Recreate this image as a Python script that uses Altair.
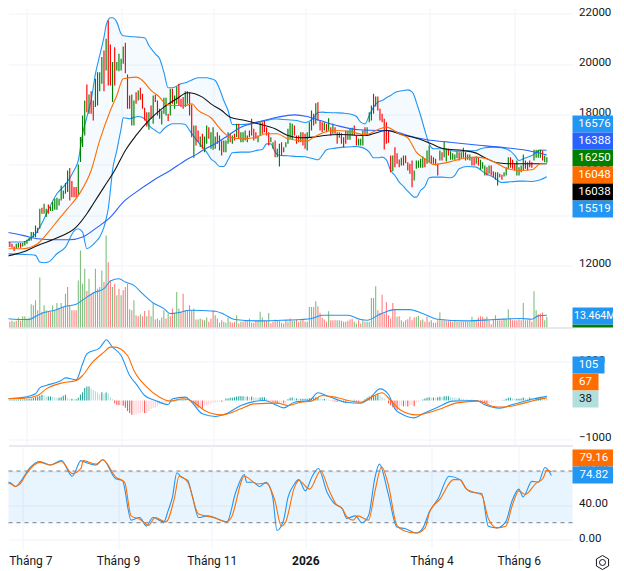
import altair as alt
import pandas as pd

# ---------- candles, bars 1..253 ----------
candle_high = [
12930,12930,12860,12750,12860,12885,12885,12885,12965,13015,
13095,13320,13320,13585,13495,14250,14290,14450,14250,14420,
14340,14515,14645,14685,14645,15175,14975,15270,15770,15865,
15350,15110,15110,16010,17100,17960,18555,19190,18795,18925,
18555,19415,19680,19680,20280,20545,21005,21735,20780,20080,
20675,20080,20410,20210,20700,20850,19590,18755,18795,18555,
18885,18950,19060,18820,18265,18090,18090,18355,18755,18780,
18555,18225,18155,18660,18660,18025,19020,19020,18755,19110,
19220,18620,18690,18925,18925,18885,18395,17560,17560,17360,
17125,17228,17122,17560,17493,17294,17493,17122,17294,17162,
16963,16963,16963,17294,17228,17162,17228,17625,17625,17294,
17294,17360,17162,17360,17824,17427,17294,17162,17692,17692,
17758,17493,17294,17095,16897,16963,16632,16830,16897,16698,
16897,17427,17665,17625,17559,17162,17162,17294,17294,17228,
17294,17692,18155,18023,18447,18487,17758,17692,17692,17625,
17851,17493,17625,17493,17294,17294,17255,17095,17360,17360,
17427,17467,17559,17162,17029,17029,17360,17493,17493,18089,
18354,18818,18712,18712,18222,18023,17824,17692,17360,16367,
16367,16698,16460,16208,16274,16367,16367,16102,16035,16168,
15770,16168,16168,16234,16327,16234,16565,16764,16367,16300,
16234,16035,16565,16499,16923,16632,16632,16539,16460,16407,
16526,16499,16499,16671,16499,16407,16407,16300,16300,16340,
16300,16195,16102,15969,15903,15969,15969,15744,15704,15704,
15638,15598,15704,15903,16300,16300,16195,16035,16168,15903,
15969,16407,16168,16102,16168,16102,16592,16592,16592,16592,16565,16367,16300]
candle_low = [
12725,12725,12700,12565,12660,12700,12700,12750,12790,12860,
12965,12990,13120,13120,13280,13455,14050,14050,13920,14050,
14155,14155,14210,14210,14380,14580,14645,14845,14910,14580,
14710,14710,14710,14780,16105,16700,17165,18090,18025,18025,
17760,18290,18355,18925,19220,18925,19750,19150,19150,18490,
19150,19750,19720,19750,20010,19640,18225,18225,17560,17560,
18425,18555,18580,18225,17760,17520,17390,17825,17625,18490,
17960,17825,17600,18025,17960,17735,17960,18420,18225,18420,
18355,18290,18225,18290,18420,17960,17095,16275,16765,16900,
16700,16632,16500,16830,17029,16632,16592,16632,16830,16565,
16367,16499,16499,16830,16897,16830,16963,17095,17029,16897,
16897,16963,16897,17095,17162,16963,17029,16897,17162,17228,
17294,17162,16764,16897,16632,16300,16300,15930,16367,16499,
16698,16830,17029,16990,17162,16830,16897,16897,16764,16632,
16565,17095,17360,17559,17625,17758,17360,17294,17360,17294,
17360,17162,17228,17228,16830,17069,16830,16698,16830,16990,
16990,17162,17162,16764,16764,16764,16764,17162,17162,17692,
17758,18023,18315,18155,17758,17692,16605,16830,16870,15704,
15744,15903,16035,15903,15969,15969,16062,15770,15638,15108,
15373,15837,15877,15877,15877,15903,16035,16102,16035,16035,
15969,15572,16168,16168,16300,16128,16367,16195,16195,16195,
16261,16168,16234,16274,16168,16195,16168,15969,15969,16035,
15969,15797,15837,15572,15572,15638,15572,15505,15400,15174,
15505,15400,15532,15572,15837,15877,15837,15770,15572,15572,
15704,15770,15837,15770,15903,15877,16168,16274,16274,16274,16168,16102,16075]
candle_dirs = ("rrrrggrggg" "ggggrgrggr" "gggggggggr" "rrrggggrgr" "rggggrgrrg"
               "rggggrrrgg" "rgrrrrgrgr" "rggggrgrgg" "rrrggrrgrr" "grggrgggrg"
               "rgggrgrgrg" "gggrrrrggr" "rrrggrggrg" "ggggrrrgrr" "gggrgrrrgr"
               "grgrrgrrrg" "ggrrgggrgg" "grgrrrrrrr" "grrrgrrrrr" "gggggrggrr"
               "rrgrggrggg" "grggrggrrg" "rgggrgrrrg" "rrgggrrrgg" "ggrrrrggggrgg")

# ---------- moving averages ----------
ema_bar = [0,8,15,20,25,29,35,40,44,49,52,55,61,64,68,72,75,80,84,87,90,96,101,105,111,116,122,127,132,141,144,149,153,161,168,175,178,184,188,192,196,200,205,210,216,220,225,230,234,240,246,250,253]
ema_val = [12660,12660,12858,13320,13850,14250,14910,15770,16965,18158,18754,19416,19483,19350,18952,18688,18396,18356,18356,18422,18158,17866,17360,17095,17029,17070,17228,17228,17029,16936,17095,17294,17360,17321,17188,17427,17493,17228,17070,16500,16234,16009,16062,16168,16274,16300,16234,16036,15863,15770,15797,16036,16048]
sma_bar = [0,8,15,25,33,38,41,46,51,56,61,67,74,80,85,92,96,101,105,112,118,126,132,138,144,149,156,168,178,185,193,199,205,214,220,225,230,237,253]
sma_val = [12354,12526,12790,13122,13520,14050,14447,15110,15770,16568,17164,17760,18290,18621,18860,18688,18420,18155,17890,17758,17625,17427,17161,17070,17095,17161,17200,17161,17360,17200,17029,16830,16632,16566,16460,16234,16076,16036,16038]
ma200_bar = [0,8,15,23,30,36,43,49,55,61,69,77,84,90,92,98,104,110,118,127,135,141,147,156,165,175,179,184,188,197,207,219,231,242,253]
ma200_val = [13320,13189,13056,13016,13016,13122,13520,13917,14514,14910,15375,15772,16170,16450,16565,16830,17161,17493,17692,17890,17983,17917,17758,17533,17387,17360,17360,17268,17161,16990,16897,16791,16698,16592,16388]

# ---------- Bollinger bands ----------
bb_bar = [0,4,8,12,14,16,18,20,24,28,32,34,36,38,40,42,44,46,47,48,49,50,52,54,55,58,62,65,67,70,72,74,76,78,82,84,86,90,94,96,
98,100,102,104,106,110,114,118,120,122,124,126,128,132,136,140,142,144,146,148,150,154,158,162,164,166,168,170,172,174,176,178,180,
182,184,186,188,190,191,192,194,196,198,200,204,208,210,212,216,220,222,224,228,232,236,238,240,242,246,250,253]
bb_upper = [12924,12924,12924,13096,13255,13520,13851,14209,14845,15216,15773,16170,17230,17893,18555,19615,20344,21073,21536,21762,21841,21841,21669,21205,21126,21099,21073,21046,20741,20410,20211,19681,19059,19059,19218,19257,19324,19456,19456,19416,
19348,19017,18553,18155,17599,17599,17625,17705,17732,17758,17798,17824,17811,17785,17758,17678,17732,17864,18076,18089,18076,18063,18049,17996,17917,17692,17625,17957,18288,18487,18553,18659,18752,
18871,18924,18950,18977,18898,18752,18487,17957,17360,16830,16632,16632,16565,16539,16539,16552,16566,16632,16672,16698,16672,16539,16367,16168,16234,16367,16579,16576]
bb_lower = [12460,12447,12434,12420,12394,12129,12102,12129,12460,12725,13361,13454,13321,12659,12752,12924,13123,13520,13851,14249,14978,15773,16568,17429,17866,17826,17919,17826,17561,17363,17257,17429,17561,17628,17628,17601,17363,16899,16501,16236,
16102,15930,15930,16195,16473,16499,16499,16579,16605,16830,16830,16499,16367,16354,16327,16314,16274,16234,16195,16367,16592,16658,16698,16711,16725,16698,16632,16499,16274,16274,16300,16195,15770,
15572,15307,15134,14949,14777,14710,14710,14975,15134,15479,15505,15505,15479,15572,15836,15929,15903,15797,15664,15505,15293,15320,15333,15347,15347,15333,15400,15519]

# ---------- volume, millions ----------
volume_m = [
6.2,6.2,7.3,6.2,7.3,11,7.3,12.4,12.4,9.9,
11,25.6,24.5,29.9,19,55,17.2,24.5,19,17.2,
17.2,24.5,19,27,20.8,27,22.6,37.2,44.5,24.5,
19,19,19,51.8,84.7,48.2,64.6,40.2,53.7,37.2,
39,64.6,42.7,44.5,62.8,50,101.1,71.9,51.8,44.5,
48.2,35.4,42.7,35.4,40.9,44.5,48.2,20,19,29.9,
13.5,12.4,14.6,12.4,18.2,12.4,19,12.4,26.3,8.8,
9.9,8,11,19,9.9,15.3,12.4,20.8,16,39,
20.8,17.2,37.2,19,19,24.5,19,20.8,8.8,8.8,
9.9,8.8,8,11,6.2,9.9,19,13.5,9.9,5.1,
8,6.2,5.1,11,6.2,5.1,6.2,13.5,4.4,6.2,
6.2,7.3,7.3,9.9,5.1,5.1,8,8,17.2,11,
7.3,7.3,16,4.4,6.2,8.8,7.3,7.3,5.1,4.4,
7.3,6.2,9.9,7.3,7.3,8.8,6.2,8,8.8,6.2,
6.2,22.6,22.6,22.6,28.8,23.4,16.1,10.6,8.8,6.2,
17.9,8,8,8,8,8,7.3,6.2,6.2,7.3,
8.8,9.5,6.2,4.4,8,4.4,8.8,6.2,6.2,6.2,
32.5,32.5,45.3,19,16.1,36.1,15.3,28.1,13.5,9.9,
27,19.7,11.7,12.4,8,6.2,8,9.1,11.7,8,
11,11.7,12.8,8,8.8,6.2,11.7,6.2,8,5.1,
5.1,8,16.8,8,8,7.3,7.3,7.3,6.2,8,
6.2,6.2,6.2,6.2,6.2,6.2,6.2,11.7,7.3,8,
11,12.4,11.7,9.9,11.7,8,3.7,8.8,13.5,8,
8,8,9.9,9.9,20.1,9.9,8,8,8,8.8,
8,27,8,8,8.8,6.2,39.8,19,14.6,15.3,16.4,8,11.7]
volume_dir = ("rrggrgrggg" "ggggrgrggr" "rgggrgrgrg" "rrrggggrgr" "rgrggrgrrg"
              "rgrgrrrgrg" "rrgrrgrggr" "rgrgrgrrgg" "grrgrrrgrg" "grggrrrgrg"
              "rgggrrrgrg" "rrrgrrrggg" "rrgrrrrgrg" "rgrggrrgrr" "gggrgrrrrr"
              "grrrggrgrr" "rrggrrgrgg" "gggrrrrrrr" "rrgrgrrrrr" "rggrgrrrgr"
              "rrgrgrrrrg" "rgrrrgggg" "r" "rrrrgrrrgg" "rrgggrrrrr" "rgrgrrggrrrgg")

vma_bar = [0,6,11,15,18,23,28,33,37,41,46,49,53,56,60,64,69,74,77,81,86,98,102,107,118,129,138,143,148,160,166,169,175,182,189,195,202,215,229,241,246,249,253]
vma_val = [9.9,8.8,8.8,13.5,16.4,19,23.4,25.6,31.8,38,42.7,51.1,53.7,50,46.4,37.2,27,20.8,15.3,16.4,19,17.9,14.6,8.8,7.3,8,8.8,9.9,13.5,13.5,8.8,8,14.6,19.7,19.7,15.3,9.1,7.3,8.8,9.9,9.1,12.8,13.464]

# ---------- MACD ----------
macd_hist = [
17,17,17,17,17,26,26,26,34,34,43,51,68,85,102,119,145,136,102,102,
102,94,77,68,68,85,119,145,68,34,43,34,34,68,153,213,323,357,357,306,
272,238,204,153,213,170,204,187,85,34,
-68,-111,-119,-119,-136,-187,-272,-323,-366,-366,
-357,-340,-323,-298,-323,-323,-272,-213,-187,-187,
-153,-102,-85,-68,-43,-26,17,17,26,34,
34,34,34,43,26,26,-43,-102,-153,-187,
-187,-204,-136,-119,-102,-85,-51,-43,-43,-26,
-34,-34,51,51,68,68,85,102,111,111,
111,102,102,85,102,85,77,68,77,85,
85,51,26,-26,-51,-60,-77,-51,-51,-68,
-68,34,68,77,51,51,43,43,43,43,
43,60,60,
68,85,85,51,43,43,26,17,-9,-17,
-26,-34,-26,-34,-51,-68,-26,-9,9,17,
-26,-34,-26,-17,34,68,102,128,128,128,
170,128,85,51,9,-68,-119,-170,-213,-238,
-230,-136,-145,-145,-153,-119,-119,-145,-51,-34,
-9,26,51,68,85,68,77,68,85,94,
85,111,111,111,94,85,77,60,60,51,
43,34,26,17,17,9,4,-9,-17,-26,
-60,-85,-77,-60,-34,-26,-17,-9,4,17,
43,68,68,60,43,43,43,51,77,60,
51,77,68,51,68,68,85,68,51,38]
macd_bar = [0,9,14,16,19,26,28,33,36,38,44,46,47,50,54,58,61,65,70,76,78,84,87,92,98,103,110,121,127,130,135,142,146,151,159,166,170,175,179,182,185,191,195,202,209,220,224,231,237,247,253]
macd_val = [43,86,171,325,385,513,581,530,941,1197,1351,1496,1556,1368,1154,642,428,128,0,-103,43,86,-43,-342,-410,-342,-128,0,-128,-188,-43,0,197,103,-43,-68,43,299,154,-214,-342,-445,-342,-171,-17,0,-111,-197,-103,43,105]
signal_bar = [0,9,15,19,26,33,36,40,46,49,51,57,60,66,72,77,83,88,93,101,110,116,127,132,138,143,148,154,160,166,171,176,180,185,192,202,211,221,228,232,241,247,253]
signal_val = [43,60,128,299,445,513,641,941,1240,1368,1368,1154,770,342,86,-17,43,-43,-256,-368,-214,-86,-68,-128,-43,-17,128,86,0,-43,86,197,0,-256,-368,-239,-60,-17,-154,-171,-86,0,67]

# ---------- Stochastic ----------
k_bar = [0,2,4,7,9,14,18,23,28,33,37,38,44,47,53,56,60,64,67,70,75,77,79,81,83,86,88,91,95,104,108,112,113,116,119,122,125,127,130,132,135,137,140,143,146,150,153,157,159,163,166,169,172,174,178,182,186,191,194,197,201,206,211,214,217,221,224,228,232,235,238,240,244,247,250,253]
k_val = [57,67,67,62,67,85,91,87,92,74,92,91,87,93,71,69,23,26,16,26,21,34,50,78,73,69,52,26,28,21,55,76,67,67,62,67,50,11,23,49,65,70,57,73,83,55,43,36,25,28,20,28,73,88,54,15,13,8,14,33,48,74,70,59,55,54,16,14,21,46,59,50,68,67,84,74.82]
d_bar = [0,2,4,7,9,12,18,23,28,33,37,38,44,47,53,57,60,64,68,71,76,80,82,86,91,98,104,106,112,118,122,126,129,131,135,137,142,147,151,154,157,159,162,164,169,172,175,178,182,185,191,195,197,202,208,211,214,218,221,224,228,232,235,238,241,246,249,251,253]
d_val = [50,61,66,62,65,77,90,87,91,77,83,92,88,93,73,67,28,24,17,26,21,50,74,67,30,26,21,26,74,65,66,46,16,21,61,69,59,80,57,42,36,27,23,28,23,57,85,65,17,11,8,14,32,48,70,70,59,55,52,25,14,16,40,57,53,66,71,81,79.16]

# ---------- labels ----------
month_bars = [10,54,97,140,198,238]
month_text = ["Tháng 7","Tháng 9","Tháng 11","2026","Tháng 4","Tháng 6"]
price_ticks = [12000,14000,16000,18000,20000,22000]
price_tags = ["16576","16388","16250","16048","16038","15519"]
stoch_band = [20,80]

FONT = "Roboto"
INK = "#131722"
GRID = "#f0f3fa"
SEP = "#e0e3eb"
BLUE = "#2196f3"
ORANGE = "#ff6d00"
ROYAL = "#2962ff"
GREEN = "#008000"
RED = "#ff0000"
W = 564
LW = 1.1

bars = list(range(1, 254))
n = len(bars)
volume_dir = (volume_dir + "g" * n)[:n]
xscale = alt.Scale(domain=[3.71, 262.66], nice=False, zero=False)
labels_expr = "{" + ",".join(f"{b}:'{t}'" for b, t in zip(month_bars, month_text)) + "}[datum.value]"

def xaxis(show=False):
    if show:
        return alt.Axis(values=month_bars, labelExpr=labels_expr, title=None, grid=True, gridColor=GRID,
                        domain=False, ticks=False, labelPadding=7, labelFont=FONT, labelFontSize=12,
                        labelColor=INK, labelAngle=0, labelOverlap=False, labelFlush=15, labelFlushOffset=13.5,
                        labelFontWeight={"condition": {"test": "datum.value==140", "value": "bold"}, "value": "normal"})
    return alt.Axis(values=month_bars, labels=False, title=None, grid=True, gridColor=GRID, domain=True,
                    domainColor=SEP, domainWidth=1.5, ticks=False)

def make_y(scale, axis):
    return alt.Y("v:Q", scale=scale, axis=axis, stack=None)

def yaxis(values, fmt="d"):
    return alt.Axis(values=values, title=None, orient="right", domain=False, ticks=False, grid=True, gridColor=GRID,
                    labelPadding=6, labelFont=FONT, labelFontSize=11.5, labelColor=INK, format=fmt, labelOffset=-1.5)

def lines(xs, vals, color, width, y, x_axis):
    df = pd.DataFrame({"i": xs, "v": vals})
    return alt.Chart(df).mark_line(color=color, strokeWidth=width, interpolate="monotone", clip=True).encode(
        x=alt.X("i:Q", scale=xscale, axis=x_axis), y=y)

def tag(text, x0, x1, y0, y1, fill, ink="#ffffff", tx=None, align="center", size=11.5):
    base = alt.Chart(pd.DataFrame({"label": [text]}))
    r = base.mark_rect(color=fill, opacity=1).encode(x=alt.value(x0), x2=alt.value(x1), y=alt.value(y0), y2=alt.value(y1))
    t = base.mark_text(font=FONT, fontSize=size, color=ink, align=align, baseline="middle").encode(
        text="label:N", x=alt.value((x0 + x1) / 2 if tx is None else tx), y=alt.value((y0 + y1) / 2))
    return [r, t]

# ---------- price pane ----------
pane1_top = 8
price_y = make_y(alt.Scale(domain=[9527, 22211], nice=False, zero=False), yaxis(price_ticks))
xa0 = xaxis(False)
band = alt.Chart(pd.DataFrame({"i": bb_bar, "v": bb_upper, "v2": bb_lower})).mark_area(
    color=BLUE, opacity=0.05, clip=True, interpolate="monotone").encode(
    x=alt.X("i:Q", scale=xscale, axis=xa0), y=price_y, y2="v2:Q")
cdf = pd.DataFrame({"i": bars, "v": candle_high, "v2": candle_low,
                    "c": [GREEN if d == "g" else RED for d in candle_dirs]})
candles = alt.Chart(cdf).mark_rule(strokeWidth=1.15, clip=True).encode(
    x=alt.X("i:Q", scale=xscale, axis=xa0), y=price_y, y2="v2:Q", color=alt.Color("c:N", scale=None))
price_layers = [band,
    lines(bb_bar, bb_upper, BLUE, LW, price_y, xa0),
    lines(bb_bar, bb_lower, BLUE, LW, price_y, xa0),
    candles,
    lines(ma200_bar, ma200_val, ROYAL, LW, price_y, xa0),
    lines(sma_bar, sma_val, "#131313", LW, price_y, xa0),
    lines(ema_bar, ema_val, ORANGE, LW, price_y, xa0)]

vol_y = make_y(alt.Scale(domain=[0, 351], nice=False), None)
vdf = pd.DataFrame({"i": bars, "v": volume_m, "c": [GREEN if d == "g" else RED for d in volume_dir]})
vol = alt.Chart(vdf).mark_bar(size=1.1, opacity=0.5, orient="vertical", clip=True).encode(
    x=alt.X("i:Q", scale=xscale, axis=xa0), y=vol_y, color=alt.Color("c:N", scale=None))
vma = lines(vma_bar, vma_val, BLUE, LW, vol_y, xa0)

tag_y = [115, 132, 149, 166, 183, 200]
tag_fill = [BLUE, ROYAL, GREEN, ORANGE, "#000000", BLUE]
tag_layers = []
for s, y0, f in zip(price_tags, tag_y, tag_fill):
    tag_layers += tag(s, 564, 609, y0 - pane1_top, y0 + 17 - pane1_top, f, tx=586)
tag_layers += tag(" ", 564, 616, 324 - pane1_top, 327 - pane1_top, GREEN)[:1]
tag_layers += tag("13.464M", 564, 616, 307 - pane1_top, 324 - pane1_top, BLUE, tx=565.5, align="left", size=10.5)

pane1 = alt.layer(alt.layer(*price_layers), alt.layer(vol, vma), alt.layer(*tag_layers)).resolve_scale(
    y="independent").properties(width=W, height=319)

# ---------- MACD pane ----------
pane2_top = 327
macd_y = make_y(alt.Scale(domain=[-1154, 1872], nice=False, zero=False), yaxis([-1000, 1000]))
colors = []
prev = 0
for h in macd_hist:
    if h >= 0:
        colors.append("#26a69a" if h >= prev else "#b2dfdb")
    else:
        colors.append("#ff5252" if h < prev else "#ffcdd2")
    prev = h
hist = alt.Chart(pd.DataFrame({"i": bars, "v": macd_hist, "c": colors})).mark_bar(size=1.1, orient="vertical", clip=True).encode(
    x=alt.X("i:Q", scale=xscale, axis=xa0), y=macd_y, color=alt.Color("c:N", scale=None))
pane2_layers = [hist,
    lines(macd_bar, macd_val, BLUE, LW, macd_y, xa0),
    lines(signal_bar, signal_val, ORANGE, LW, macd_y, xa0)]
pane2_layers += tag("105", 564, 596, 356 - pane2_top, 373 - pane2_top, BLUE)
pane2_layers += tag("67", 564, 590, 373 - pane2_top, 390 - pane2_top, ORANGE)
pane2_layers += tag("38", 564, 590, 390 - pane2_top, 407 - pane2_top, "#b2dfdb", ink=INK)
pane2 = alt.layer(*pane2_layers).properties(width=W, height=118)

# ---------- Stochastic pane ----------
pane3_top = 445
st_y = make_y(alt.Scale(domain=[-9.9, 109.6], nice=False, zero=False), yaxis([0, 40, 80], ".2f"))
xa1 = xaxis(True)
fill = alt.Chart(pd.DataFrame({"v": [stoch_band[1]], "v2": [stoch_band[0]]})).mark_rect(color=BLUE, opacity=0.1).encode(
    x=alt.value(0), x2=alt.value(W), y=st_y, y2="v2:Q")
limits = alt.Chart(pd.DataFrame({"v": stoch_band})).mark_rule(color="#787b86", strokeDash=[4, 4], strokeWidth=1).encode(y=st_y)
pane3_layers = [fill, limits,
    lines(k_bar, k_val, BLUE, LW, st_y, xa1),
    lines(d_bar, d_val, ORANGE, LW, st_y, xa1)]
pane3_layers += tag("79.16", 564, 606.7, 449 - pane3_top, 466 - pane3_top, ORANGE)
pane3_layers += tag("74.82", 564, 606.7, 466 - pane3_top, 483 - pane3_top, BLUE)
gear_data = pd.DataFrame({"k": ["settings"]})
gear = alt.Chart(gear_data).mark_point(shape="M0,-1L0.87,-0.5L0.87,0.5L0,1L-0.87,0.5L-0.87,-0.5Z", size=196,
        stroke=INK, strokeWidth=1, filled=False, opacity=1).encode(x=alt.value(594), y=alt.value(117))
gear2 = alt.Chart(gear_data).mark_point(shape="circle", size=36, stroke=INK, strokeWidth=1, filled=False, opacity=1).encode(
        x=alt.value(594), y=alt.value(117))
pane3_layers += [gear, gear2]
pane3 = alt.layer(*pane3_layers).properties(width=W, height=103)

chart = alt.vconcat(pane1, pane2, pane3, spacing=0, bounds="flush").properties(
    padding={"left": -0.5, "right": -11.5, "top": -2.5, "bottom": 0}, background="#ffffff"
).configure_view(stroke=None)

chart.save("out.html", embed_options={"renderer": "svg", "actions": False})
